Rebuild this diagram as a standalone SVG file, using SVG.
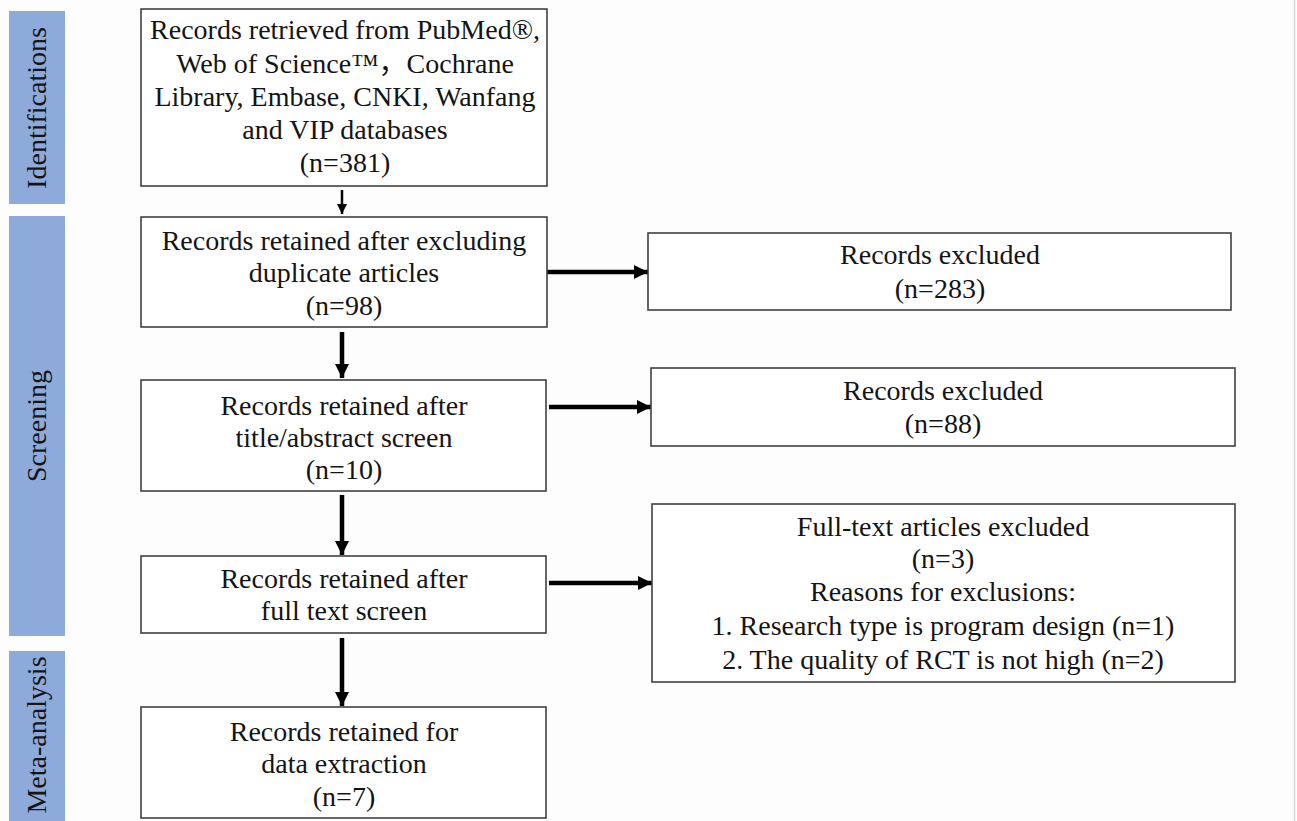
<svg xmlns="http://www.w3.org/2000/svg" width="1297" height="821" viewBox="0 0 1297 821">
<style>
.bg{fill:#fdfdfd}
.bar{fill:#8eaadb}
.box{fill:#ffffff;stroke:#404040;stroke-width:1.6}
.t{font-family:'Liberation Serif','Times New Roman','DejaVu Serif','Noto Sans CJK SC',serif;font-size:28px;fill:#141414;text-anchor:middle}
.c{stroke:#000;fill:none}
.thin{stroke-width:2.5}
.thick{stroke-width:4.5}
</style>
<defs>
<marker id="ah" markerUnits="userSpaceOnUse" markerWidth="16" markerHeight="16" viewBox="0 0 16 16" refX="14" refY="8" orient="auto">
<path d="M0,1 L14,8 L0,15 Z" fill="#000"/>
</marker>
<marker id="ahs" markerUnits="userSpaceOnUse" markerWidth="12" markerHeight="12" viewBox="0 0 12 12" refX="10" refY="6" orient="auto">
<path d="M0,1 L10,6 L0,11 Z" fill="#000"/>
</marker>
</defs>
<rect class="bg" x="0" y="0" width="1297" height="821"/>
<line x1="1294.5" y1="0" x2="1294.5" y2="821" stroke="#d8d8d8" stroke-width="1.5"/>

<g id="phase-identifications">
<rect class="bar" x="9" y="11" width="56" height="193"/>
<text class="t" transform="translate(46,108) rotate(-90)">Identifications</text>
</g>
<g id="phase-screening">
<rect class="bar" x="9" y="216" width="56" height="420"/>
<text class="t" transform="translate(46,426) rotate(-90)">Screening</text>
</g>
<g id="phase-meta">
<rect class="bar" x="9" y="651" width="56" height="172"/>
<text class="t" transform="translate(46,735) rotate(-90)">Meta-analysis</text>
</g>

<g id="connectors">
<line class="c thin" x1="342" y1="190" x2="342" y2="214" marker-end="url(#ahs)"/>
<line class="c thick" x1="342" y1="332" x2="342" y2="378" marker-end="url(#ah)"/>
<line class="c thick" x1="342" y1="495" x2="342" y2="555" marker-end="url(#ah)"/>
<line class="c thick" x1="342" y1="638" x2="342" y2="706" marker-end="url(#ah)"/>
<line class="c thick" x1="547" y1="272" x2="648" y2="272" marker-end="url(#ah)"/>
<line class="c thick" x1="549" y1="407" x2="651" y2="407" marker-end="url(#ah)"/>
<line class="c thick" x1="549" y1="583" x2="652" y2="583" marker-end="url(#ah)"/>
</g>

<g id="n-retrieved">
<rect class="box" x="141" y="9" width="406" height="177"/>
<text class="t" x="345" y="39">Records retrieved from PubMed®,</text>
<text class="t" x="345" y="73">Web of Science™，Cochrane</text>
<text class="t" x="345" y="106">Library, Embase, CNKI, Wanfang</text>
<text class="t" x="345" y="139">and VIP databases</text>
<text class="t" x="345" y="172">(n=381)</text>
</g>
<g id="n-dedup">
<rect class="box" x="141" y="217" width="406" height="110"/>
<text class="t" x="344" y="250">Records retained after excluding</text>
<text class="t" x="344" y="282">duplicate articles</text>
<text class="t" x="344" y="315">(n=98)</text>
</g>
<g id="n-title">
<rect class="box" x="141" y="380" width="405" height="111"/>
<text class="t" x="344" y="415">Records retained after</text>
<text class="t" x="344" y="447">title/abstract screen</text>
<text class="t" x="344" y="479">(n=10)</text>
</g>
<g id="n-fulltext">
<rect class="box" x="141" y="556" width="405" height="77"/>
<text class="t" x="344" y="588">Records retained after</text>
<text class="t" x="344" y="620">full text screen</text>
</g>
<g id="n-final">
<rect class="box" x="141" y="707" width="405" height="111"/>
<text class="t" x="344" y="741">Records retained for</text>
<text class="t" x="344" y="773">data extraction</text>
<text class="t" x="344" y="806">(n=7)</text>
</g>
<g id="n-excl1">
<rect class="box" x="648" y="233" width="583" height="77"/>
<text class="t" x="940" y="264">Records excluded</text>
<text class="t" x="940" y="298">(n=283)</text>
</g>
<g id="n-excl2">
<rect class="box" x="651" y="368" width="584" height="78"/>
<text class="t" x="943" y="400">Records excluded</text>
<text class="t" x="943" y="433">(n=88)</text>
</g>
<g id="n-excl3">
<rect class="box" x="652" y="504" width="583" height="178"/>
<text class="t" x="943" y="536">Full-text articles excluded</text>
<text class="t" x="943" y="568">(n=3)</text>
<text class="t" x="943" y="601">Reasons for exclusions:</text>
<text class="t" x="943" y="635">1. Research type is program design (n=1)</text>
<text class="t" x="943" y="669">2. The quality of RCT is not high (n=2)</text>
</g>
</svg>
